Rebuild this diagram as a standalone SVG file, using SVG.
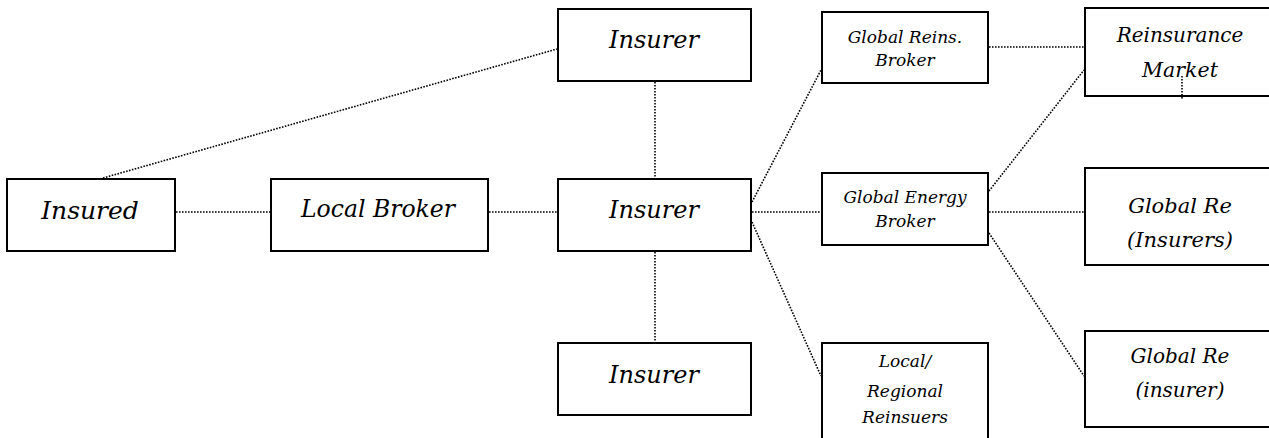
<svg xmlns="http://www.w3.org/2000/svg" width="1269" height="438" viewBox="0 0 1269 438">
<style>
.box{fill:#fff;stroke:#000;stroke-width:2}
.c{stroke:#000;stroke-width:1.6;stroke-dasharray:1.6 1.4;fill:none}
text{font-family:"DejaVu Serif","Liberation Serif",serif;font-style:italic;text-anchor:middle;fill:#000}
</style>
<rect width="1269" height="438" fill="#fff"/>
<g id="insured"><rect class="box" x="7" y="179" width="168" height="72"/><text x="90" y="219" font-size="25">Insured</text></g>
<g id="local-broker"><rect class="box" x="271" y="179" width="217" height="72"/><text x="378" y="217" font-size="23.5">Local Broker</text></g>
<g id="insurer-top"><rect class="box" x="558" y="9" width="193" height="72"/><text x="654" y="48" font-size="24">Insurer</text></g>
<g id="insurer-mid"><rect class="box" x="558" y="179" width="193" height="72"/><text x="654" y="218" font-size="24">Insurer</text></g>
<g id="insurer-bottom"><rect class="box" x="558" y="343" width="193" height="72"/><text x="654" y="383" font-size="24">Insurer</text></g>
<g id="global-reins-broker"><rect class="box" x="822" y="12" width="166" height="71"/><text x="905" y="43" font-size="17">Global Reins.</text><text x="905" y="66" font-size="17">Broker</text></g>
<g id="global-energy-broker"><rect class="box" x="822" y="173" width="166" height="72"/><text x="905" y="203" font-size="17">Global Energy</text><text x="905" y="227" font-size="17">Broker</text></g>
<g id="local-regional"><rect class="box" x="822" y="343" width="166" height="100"/><text x="905" y="367" font-size="17">Local/</text><text x="905" y="397" font-size="17">Regional</text><text x="905" y="423" font-size="17">Reinsuers</text></g>
<g id="reinsurance-market"><rect class="box" x="1085" y="8" width="190" height="88"/><text x="1180" y="42" font-size="20">Reinsurance</text><text x="1180" y="77" font-size="20.5">Market</text></g>
<g id="global-re-insurers"><rect class="box" x="1085" y="168" width="190" height="97"/><text x="1180" y="213" font-size="21">Global Re</text><text x="1180" y="247" font-size="21">(Insurers)</text></g>
<g id="global-re-insurer"><rect class="box" x="1085" y="331" width="190" height="96"/><text x="1180" y="363" font-size="20">Global Re</text><text x="1180" y="397" font-size="20">(insurer)</text></g>
<g id="connectors">
<line class="c" x1="103" y1="178" x2="557" y2="49"/>
<line class="c" x1="176" y1="212" x2="270" y2="212"/>
<line class="c" x1="489" y1="212" x2="557" y2="212"/>
<line class="c" x1="655" y1="82" x2="655" y2="178"/>
<line class="c" x1="655" y1="252" x2="655" y2="342"/>
<line class="c" x1="752" y1="212" x2="821" y2="212"/>
<line class="c" x1="752" y1="202" x2="821" y2="70"/>
<line class="c" x1="752" y1="222" x2="821" y2="376"/>
<line class="c" x1="989" y1="47" x2="1084" y2="47"/>
<line class="c" x1="989" y1="212" x2="1084" y2="212"/>
<line class="c" x1="989" y1="191" x2="1084" y2="70"/>
<line class="c" x1="989" y1="233" x2="1084" y2="376"/>
<line class="c" x1="1182" y1="76" x2="1182" y2="100"/>
</g>
</svg>
